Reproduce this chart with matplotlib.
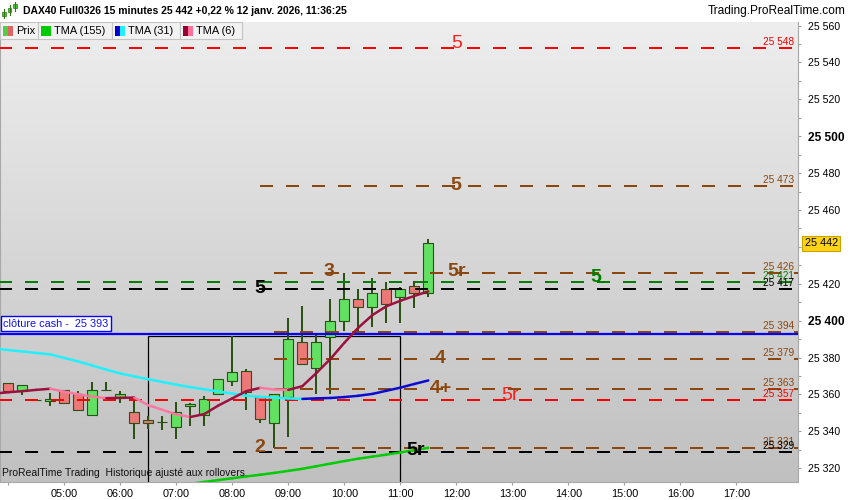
import matplotlib
matplotlib.use("Agg")
import matplotlib.pyplot as plt
import numpy as np
from matplotlib.patches import Rectangle
from matplotlib.collections import LineCollection
from matplotlib.colors import LinearSegmentedColormap
from matplotlib.lines import Line2D

plt.rcParams['font.family'] = ['Liberation Sans', 'DejaVu Sans']

# ------------------------------------------------------------------ data
candle_times = ["04:00", "04:15", "04:30", "04:45", "05:00", "05:15", "05:30", "05:45",
                "06:00", "06:15", "06:30", "06:45", "07:00", "07:15", "07:30", "07:45",
                "08:00", "08:15", "08:30", "08:45", "09:00", "09:15", "09:30", "09:45",
                "10:00", "10:15", "10:30", "10:45", "11:00", "11:15", "11:30"]
opens = [25366, 25362, 25357, 25356.5, 25362.5, 25360, 25349, 25362.5,
         25358, 25350.5, 25346, 25345, 25342.5, 25354, 25349, 25360,
         25367.5, 25372.5, 25358.5, 25344.5, 25358.5, 25388.5, 25374.5, 25391,
         25400, 25412, 25407.5, 25417, 25413, 25419, 25415]
highs = [25366, 25365, 25357, 25361, 25362.5, 25362, 25367, 25367,
         25362, 25359, 25348.5, 25348.5, 25356, 25355.5, 25359, 25368.5,
         25391.7, 25374, 25359, 25360.5, 25401.5, 25408, 25392.5, 25412,
         25426, 25417, 25423, 25421, 25418, 25421.5, 25444.5]
lows = [25362, 25359.5, 25357, 25353.5, 25355.5, 25351.5, 25349, 25362.5,
        25355.5, 25336, 25341.5, 25340.5, 25336, 25343, 25343, 25360,
        25364.5, 25351.5, 25344.5, 25331, 25337, 25376.5, 25360, 25360,
        25394.5, 25394.5, 25396.5, 25399, 25399, 25407, 25413]
closes = [25362, 25365, 25357, 25357.5, 25355.5, 25351.5, 25362.5, 25362.5,
          25360, 25344.5, 25344.5, 25345, 25350.5, 25355, 25357.5, 25368.5,
          25372, 25361.5, 25346.5, 25360, 25390, 25376.5, 25388.5, 25400,
          25412, 25407.5, 25415, 25409, 25417, 25415, 25442]

tma_times = ["03:45"] + candle_times
tma6 = [25360.5, 25361.2, 25361.8, 25362.5, 25363.1, 25361.5, 25360.1, 25358.9,
        25358.0, 25358.2, 25358.3, 25354.2, 25351.7, 25349.2, 25347.8, 25349.4,
        25354.0, 25357.9, 25361.8, 25363.6, 25362.7, 25362.5, 25364.5, 25371.6,
        25379.2, 25388.0, 25396.2, 25403.0, 25407.8, 25410.8, 25413.4, 25415.9]
tma31 = [25384.9, 25384.1, 25383.3, 25382.5, 25381.7, 25379.8, 25377.9, 25375.7,
         25373.5, 25371.4, 25369.8, 25368.3, 25366.8, 25365.3, 25364.0, 25362.8,
         25361.6, 25360.5, 25359.3, 25358.7, 25358.3, 25357.9, 25357.6, 25357.9,
         25358.1, 25358.6, 25359.3, 25360.3, 25362.0, 25363.7, 25365.7, 25367.6]
nan = float("nan")
tma155 = [nan, nan, nan, nan, nan, nan, nan, nan, nan, nan, nan, nan, nan,
          25310.6, 25311.6, 25312.6, 25313.6, 25314.6, 25315.6, 25316.5, 25317.5,
          25318.6, 25319.7, 25321.1, 25322.5, 25323.9, 25325.2, 25326.3, 25327.4,
          25328.6, 25329.8, 25331.1]

cash_close = 25393
cash_label = "clôture cash -  25 393"

level_values = [25548, 25473, 25426, 25421, 25417, 25394, 25379, 25363, 25357, 25331, 25329]
level_colors = ["#ff0000", "#8b4710", "#8b4710", "#008000", "#000000", "#8b4710",
                "#8b4710", "#8b4710", "#ff0000", "#8b4710", "#000000"]
level_starts = [None, "08:30", "08:45", None, None, "08:45", "08:45", "08:45", None, "08:45", None]

mark_texts = ["5", "5", "3", "5r", "5", "5", "4", "4+", "5r", "2", "5r"]
mark_times = ["12:00", "12:00", "09:44", "12:00", "14:29", "08:29", "11:43", "11:43", "12:58", "08:29", "11:16"]
mark_values = [25548, 25473, 25426, 25426, 25421, 25417, 25379, 25363, 25357, 25331, 25329]
mark_colors = ["#ff2020", "#8b4710", "#8b4710", "#8b4710", "#008000", "#000000",
               "#8b4710", "#8b4710", "#ff2020", "#8b4710", "#000000"]

box_start, box_end, box_top = "06:30", "11:00", 25391.7

hour_ticks = ["04:00", "05:00", "06:00", "07:00", "08:00", "09:00", "10:00", "11:00",
              "12:00", "13:00", "14:00", "15:00", "16:00", "17:00"]
y_ticks = [25320, 25340, 25360, 25380, 25400, 25420, 25440, 25460, 25480, 25500,
           25520, 25540, 25560]
last_price = 25442

title = "DAX40 Full0326 15 minutes 25 442 +0,22 % 12 janv. 2026, 11:36:25"
site = "Trading.ProRealTime.com"
footer = "ProRealTime Trading  Historique ajusté aux rollovers"

# ------------------------------------------------------------------ helpers
W, H, DPI = 850, 500, 100


def hrs(s):
    hh, mm = s.split(":")
    return int(hh) + int(mm) / 60.0


def fmt(v):
    return f"{int(round(v)):,}".replace(",", " ")


def fx(x):
    return x / W


def fy(y):
    return 1 - y / H


PX_PER_HOUR = 56.0
X0_PX = 8.3           # pixel x of the first candle
PLOT_R, PLOT_T, PLOT_B = 798, 22, 482.3

fig = plt.figure(figsize=(W / DPI, H / DPI), dpi=DPI, facecolor="white")
ax = fig.add_axes([0, 1 - PLOT_B / H, PLOT_R / W, (PLOT_B - PLOT_T) / H])

t0 = hrs(candle_times[0])
xmin = t0 - X0_PX / PX_PER_HOUR
xmax = t0 + (PLOT_R - X0_PX) / PX_PER_HOUR
ymin, ymax = 25312.4, 25561.9
ax.set_xlim(xmin, xmax)
ax.set_ylim(ymin, ymax)

# background gradient
cmap = LinearSegmentedColormap.from_list("bg", ["#eeeeee", "#c0c0c0"])
ax.imshow(np.linspace(0, 1, 256).reshape(-1, 1), cmap=cmap, aspect="auto",
          extent=[xmin, xmax, ymin, ymax], origin="upper", zorder=0)

# rectangle
ax.add_patch(Rectangle((hrs(box_start), ymin - 50), hrs(box_end) - hrs(box_start),
                       box_top - (ymin - 50), fill=False, ec="black", lw=0.9, zorder=1))

# candles
ct = np.array([hrs(s) for s in candle_times])
o, h, l, c = map(np.array, (opens, highs, lows, closes))
edge = "#2a5214"
ax.vlines(ct, l, h, color=edge, lw=1.44, zorder=2)
up = c >= o
bw = 10 / PX_PER_HOUR
ax.bar(ct[up], (c - o)[up], bottom=o[up], width=bw, color="#62e062", edgecolor=edge,
       lw=0.8, zorder=3)
ax.bar(ct[~up], (o - c)[~up], bottom=c[~up], width=bw, color="#ec7878", edgecolor=edge,
       lw=0.8, zorder=3)

# levels
dash = (0, (6.5, 6.5))
for v, col, st in zip(level_values, level_colors, level_starts):
    xs = xmin - 1 if st is None else hrs(st)
    ax.plot([xs, xmax + 1], [v, v], color=col, lw=1.44, ls=dash, zorder=4,
            solid_capstyle="butt", dash_capstyle="butt")
    ax.annotate(fmt(v), xy=(1, v), xycoords=("axes fraction", "data"),
                xytext=(-3, 2.2), textcoords="offset points", ha="right", va="baseline",
                color=col, fontsize=7.3, zorder=6)

# cash close line
ax.plot([xmin - 1, xmax + 1], [cash_close, cash_close], color="#0000ff", lw=1.6, zorder=4)
ax.annotate(cash_label, xy=(0, cash_close), xycoords=("axes fraction", "data"),
            xytext=(2.5, 3.4), textcoords="offset points", ha="left", va="bottom",
            color="#1010ee", fontsize=7.8, zorder=7,
            bbox=dict(boxstyle="square,pad=0.22", fc="white", ec="#0000ff", lw=1.0))

# TMA lines
tt = np.array([hrs(s) for s in tma_times])


def colored_line(vals, up_col, down_col, lw):
    vals = np.array(vals, dtype=float)
    segs, cols = [], []
    for i in range(len(vals) - 1):
        if np.isnan(vals[i]) or np.isnan(vals[i + 1]):
            continue
        segs.append([(tt[i], vals[i]), (tt[i + 1], vals[i + 1])])
        cols.append(up_col if vals[i + 1] >= vals[i] else down_col)
    lc = LineCollection(segs, colors=cols, linewidths=lw, zorder=5, capstyle="round")
    ax.add_collection(lc)


colored_line(tma155, "#00cc00", "#00cc00", 1.8)
colored_line(tma31, "#0a0ad0", "#22f0ff", 1.8)
colored_line(tma6, "#9c1040", "#ff78a0", 1.8)

# level marks
for s, tm, v, col in zip(mark_texts, mark_times, mark_values, mark_colors):
    up_off = 3.2 if col in ("#ff2020", "#008000") else 0.6
    weight = "normal" if col == "#ff2020" else "bold"
    ax.annotate(s, xy=(hrs(tm), v), xytext=(0, up_off), textcoords="offset points",
                ha="center", va="center", color=col, fontsize=14, fontweight=weight,
                zorder=6)

# footer
ax.text(0.003, ymin + 2.2, footer, transform=ax.get_yaxis_transform(),
        fontsize=7.5, ha="left", va="bottom", zorder=6, color="#111111")

# axes styling
ax.spines["top"].set_visible(False)
ax.spines["left"].set_color("#a8a8a8")
ax.spines["right"].set_color("#a8a8a8")
ax.spines["bottom"].set_color("#a8a8a8")
ax.xaxis.tick_bottom()
ax.set_xticks([hrs(s) for s in hour_ticks])
ax.set_xticklabels(["" if s == hour_ticks[0] else s for s in hour_ticks], fontsize=7.8)
ax.tick_params(axis="x", length=2.5, width=0.8, color="#a0a0a0", pad=2.2)
ax.yaxis.tick_right()
ax.set_yticks(y_ticks)
ax.set_yticks([v + 10 for v in y_ticks[:-1]], minor=True)
# the tick label hidden behind the last-price tag is left blank
ax.set_yticklabels(["" if abs(v - last_price) < 8 else fmt(v) for v in y_ticks], fontsize=7.6)
for lbl, v in zip(ax.get_yticklabels(), y_ticks):
    if v % 100 == 0:
        lbl.set_fontweight("bold")
        lbl.set_fontsize(8.6)
ax.tick_params(axis="y", which="both", length=2.5, width=0.8, color="#a0a0a0", pad=4.5)

# price tag
ax.annotate(fmt(last_price), xy=(1, last_price), xycoords=("axes fraction", "data"),
            xytext=(4.8, 0), textcoords="offset points", ha="left", va="center",
            fontsize=7.8, color="black", annotation_clip=False, zorder=10,
            bbox=dict(boxstyle="square,pad=0.22", fc="#ffd21a", ec="#c8a400", lw=0.8))

# ------------------------------------------------------------------ header
fig.text(fx(23), fy(11), title, fontsize=7.5, fontweight="bold", va="center", ha="left")
fig.text(fx(846), fy(11), site, fontsize=8.6, va="center", ha="right")
# small candle icon
for (x, y0, y1, b0, b1) in [(4, 9, 18, 12, 16), (9.5, 5, 15, 8, 12), (15, 2, 11, 4, 8)]:
    fig.add_artist(Line2D([fx(x), fx(x)], [fy(y0), fy(y1)], color="#2a7a10", lw=0.8))
    fig.add_artist(Rectangle((fx(x - 1.6), fy(b1)), 3.2 / W, (b1 - b0) / H,
                             fc="#44cc33", ec="#2a7a10", lw=0.5))

# legend row
legend_items = [
    (0, 37.5, ["#55cc44", "#e06666"], "Prix"),
    (37.5, 111.7, ["#00cc00"], "TMA (155)"),
    (111.7, 180, ["#0000cc", "#22f0ff"], "TMA (31)"),
    (180, 241.7, ["#990033", "#ff6f9a"], "TMA (6)"),
]
for (x0, x1, cols, name) in legend_items:
    fig.add_artist(Rectangle((fx(x0), fy(39)), (x1 - x0) / W, 17 / H, fc="#f2f2f2",
                             ec="#c4c4c4", lw=0.8))
    bx = x0 + 3
    sw = 10 / len(cols)
    for i, cc in enumerate(cols):
        fig.add_artist(Rectangle((fx(bx + i * sw), fy(35.7)), sw / W, 9.7 / H, fc=cc,
                                 ec="none"))
    fig.text(fx(bx + 13.5), fy(30.5), name, fontsize=7.9, va="center", ha="left")

fig.savefig("out.png", dpi=DPI, facecolor="white")
